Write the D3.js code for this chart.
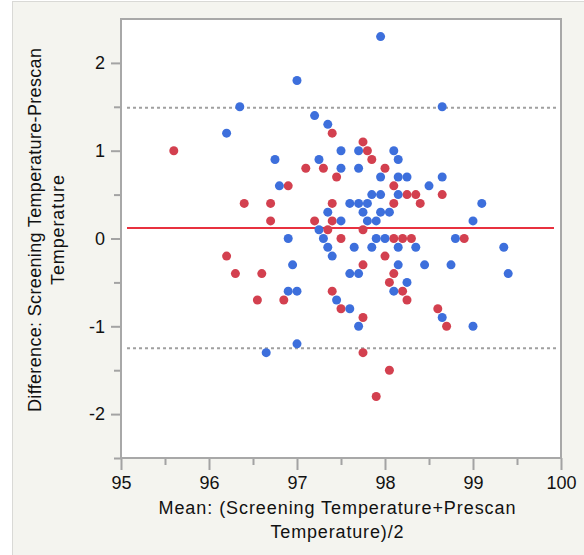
<!DOCTYPE html>
<html>
<head>
<meta charset="utf-8">
<script src="https://cdn.jsdelivr.net/npm/d3@7"></script>
<style>
    html, body { margin: 0; padding: 0; background: #ffffff; }
    svg { display: block; font-family: "Liberation Sans", Arial, sans-serif; }
</style>
</head>
<body>
<svg id="chart" width="584" height="555"></svg>
<script>
// blue group: mean of the two readings, and their difference
const blueMean = [97.95, 96.35, 98.65, 96.2, 97.0, 97.2, 97.35, 97.5, 97.7, 98.1,
    96.75, 97.25, 98.15, 97.5, 97.7, 97.95, 98.15, 98.25, 98.65, 96.8,
    98.5, 97.85, 97.95, 98.15, 97.6, 97.7, 97.8, 99.1, 97.35, 97.75,
    97.95, 98.05, 97.5, 97.8, 97.9, 99.0, 97.25, 96.9, 97.3, 97.9,
    98.0, 98.8, 97.35, 97.65, 97.85, 98.15, 98.35, 99.35, 97.4, 96.95,
    98.15, 98.45, 98.75, 97.6, 97.7, 99.4, 98.25, 96.9, 97.0, 98.1,
    97.45, 97.6, 98.65, 97.7, 99.0, 97.0, 96.65];
const blueDiff = [2.3, 1.5, 1.5, 1.2, 1.8, 1.4, 1.3, 1.0, 1.0, 1.0,
    0.9, 0.9, 0.9, 0.8, 0.8, 0.7, 0.7, 0.7, 0.7, 0.6,
    0.6, 0.5, 0.5, 0.5, 0.4, 0.4, 0.4, 0.4, 0.3, 0.3,
    0.3, 0.3, 0.2, 0.2, 0.2, 0.2, 0.1, 0, 0, 0,
    0, 0, -0.1, -0.1, -0.1, -0.1, -0.1, -0.1, -0.2, -0.3,
    -0.3, -0.3, -0.3, -0.4, -0.4, -0.4, -0.5, -0.6, -0.6, -0.6,
    -0.7, -0.8, -0.9, -1.0, -1.0, -1.2, -1.3];

// red group
const redMean = [95.6, 97.4, 97.75, 97.8, 97.85, 97.1, 97.3, 98.0, 97.45, 96.9,
    98.1, 98.65, 98.25, 98.35, 96.4, 96.7, 97.4, 98.1, 98.4, 96.7,
    97.2, 97.4, 97.35, 97.75, 97.5, 98.1, 98.2, 98.3, 98.9, 96.2,
    98.0, 96.3, 96.6, 98.1, 97.75, 98.05, 97.4, 98.2, 96.55, 96.85,
    98.25, 97.5, 98.6, 97.75, 98.7, 97.75, 98.05, 97.9];
const redDiff = [1.0, 1.2, 1.1, 1.0, 0.9, 0.8, 0.8, 0.8, 0.7, 0.6,
    0.6, 0.5, 0.5, 0.5, 0.4, 0.4, 0.4, 0.4, 0.4, 0.2,
    0.2, 0.2, 0.1, 0.1, 0, 0, 0, 0, 0, -0.2,
    -0.2, -0.4, -0.4, -0.4, -0.3, -0.5, -0.6, -0.6, -0.7, -0.7,
    -0.7, -0.8, -0.8, -0.9, -1.0, -1.3, -1.5, -1.8];

// mean difference and limits of agreement
const meanDiff = 0.12;
const limits = [1.49, -1.25];

const xTicks = [95, 96, 97, 98, 99, 100];
const xMinor = [95.5, 96.5, 97.5, 98.5, 99.5];
const yTicks = [-2, -1, 0, 1, 2];
const yMinor = [-2.5, -1.5, -0.5, 0.5, 1.5];

const xTitle = ['Mean: (Screening Temperature+Prescan', 'Temperature)/2'];
const yTitle = ['Difference: Screening Temperature-Prescan', 'Temperature'];

const size = { left: 121, top: 19, right: 561, bottom: 458 };

const svg = d3.select('#chart');

// grey panel behind everything
svg.append('rect')
    .attr('x', 12.5).attr('y', 1.5)
    .attr('width', 600).attr('height', 600)
    .attr('fill', '#f4f4ef')
    .attr('stroke', '#d9d9d6');

const x = d3.scaleLinear().domain([95, 100]).range([size.left, size.right]);
const y = d3.scaleLinear().domain([-2.5, 2.5]).range([size.bottom, size.top]);

svg.append('rect')
    .attr('x', size.left).attr('y', size.top)
    .attr('width', size.right - size.left)
    .attr('height', size.bottom - size.top)
    .attr('fill', '#ffffff');

// plain hyphen for negatives, like the original
const fmt = d => String(d);

// axes: major ticks with labels, minor ones without
function styleAxis(g) {
    g.select('.domain').remove();
    g.selectAll('line').attr('stroke', '#a3a3a3').attr('stroke-width', 2);
    g.selectAll('text').attr('fill', '#111').style('font-size', '18px');
}

svg.append('g')
    .attr('transform', `translate(0, ${size.bottom})`)
    .call(d3.axisBottom(x).tickValues(xTicks).tickSize(12).tickPadding(6).tickFormat(fmt))
    .call(styleAxis);
svg.append('g')
    .attr('transform', `translate(0, ${size.bottom})`)
    .call(d3.axisBottom(x).tickValues(xMinor).tickSize(7).tickFormat(''))
    .call(styleAxis);

svg.append('g')
    .attr('transform', `translate(${size.left}, 0)`)
    .call(d3.axisLeft(y).tickValues(yTicks).tickSize(10).tickPadding(6).tickFormat(fmt))
    .call(styleAxis);
svg.append('g')
    .attr('transform', `translate(${size.left}, 0)`)
    .call(d3.axisLeft(y).tickValues(yMinor).tickSize(7).tickFormat(''))
    .call(styleAxis);

// plot frame
svg.append('rect')
    .attr('x', size.left).attr('y', size.top)
    .attr('width', size.right - size.left)
    .attr('height', size.bottom - size.top)
    .attr('fill', 'none')
    .attr('stroke', '#a8a8a8')
    .attr('stroke-width', 2);

// reference lines
svg.selectAll('.limit')
    .data(limits)
    .enter()
    .append('line')
    .attr('class', 'limit')
    .attr('x1', size.left + 6).attr('x2', size.right - 4)
    .attr('y1', d => y(d)).attr('y2', d => y(d))
    .attr('stroke', '#a0a0a0')
    .attr('stroke-width', 2)
    .attr('stroke-dasharray', '3,3');

svg.append('line')
    .attr('x1', size.left + 6).attr('x2', size.right - 7)
    .attr('y1', y(meanDiff)).attr('y2', y(meanDiff))
    .attr('stroke', '#e8313f')
    .attr('stroke-width', 2);

// points
const red = redMean.map((m, i) => ({ m: m, d: redDiff[i] }));
const blue = blueMean.map((m, i) => ({ m: m, d: blueDiff[i] }));

svg.selectAll('.red')
    .data(red)
    .enter()
    .append('circle')
    .attr('class', 'red')
    .attr('cx', p => x(p.m))
    .attr('cy', p => y(p.d))
    .attr('r', 4.5)
    .attr('fill', '#d3404f');

svg.selectAll('.blue')
    .data(blue)
    .enter()
    .append('circle')
    .attr('class', 'blue')
    .attr('cx', p => x(p.m))
    .attr('cy', p => y(p.d))
    .attr('r', 4.5)
    .attr('fill', '#3d6fdc');

// titles
const cx = (size.left + size.right) / 2 - 4;
svg.append('text')
    .attr('x', cx).attr('y', 514)
    .attr('text-anchor', 'middle')
    .attr('fill', '#111')
    .style('font-size', '18px')
    .attr('textLength', 357)
    .text(xTitle[0]);
svg.append('text')
    .attr('x', cx).attr('y', 538)
    .attr('text-anchor', 'middle')
    .attr('fill', '#111')
    .style('font-size', '18px')
    .attr('textLength', 133)
    .text(xTitle[1]);

const cy = 230;
svg.append('text')
    .attr('transform', `translate(41, ${cy}) rotate(-90)`)
    .attr('text-anchor', 'middle')
    .attr('fill', '#111')
    .style('font-size', '18px')
    .attr('textLength', 364)
    .text(yTitle[0]);
svg.append('text')
    .attr('transform', `translate(64, ${cy}) rotate(-90)`)
    .attr('text-anchor', 'middle')
    .attr('fill', '#111')
    .style('font-size', '18px')
    .attr('textLength', 110)
    .text(yTitle[1]);
</script>
</body>
</html>
